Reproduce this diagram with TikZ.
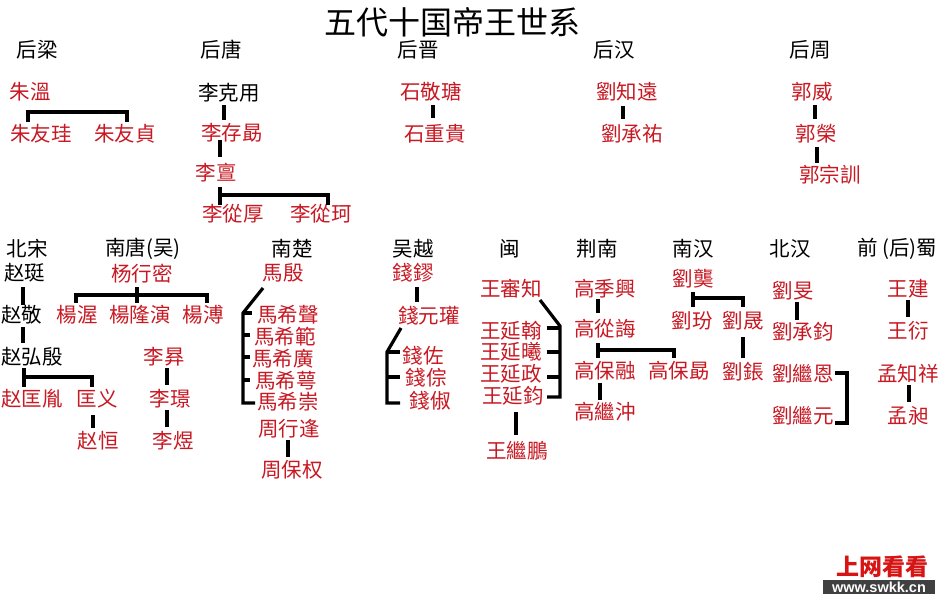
\documentclass[tikz,border=0pt]{standalone}
\usepackage{fontspec}
\setmainfont{Liberation Sans}
\newfontfamily\cjk{Noto Sans CJK SC}
\newfontfamily\wmfont{Liberation Sans}
\definecolor{namered}{RGB}{200,25,35}
\definecolor{wmred}{RGB}{215,20,20}
\definecolor{wmgray}{RGB}{64,64,64}
\begin{document}
\begin{tikzpicture}[x=1pt,y=-1pt,
  every node/.style={inner sep=0pt, outer sep=0pt},
  nm/.style={font=\cjk\fontsize{20.5}{20.5}\selectfont, text=namered},
  bk/.style={font=\cjk\fontsize{20.5}{20.5}\selectfont, text=black},
  conn/.style={draw=black, line width=3.2pt}]
\useasboundingbox (0,0) rectangle (950,604);
\fill[white] (0,0) rectangle (950,604);

% title
\node[font=\cjk\fontsize{32}{32}\selectfont] (title) at (452,22) {五代十国帝王世系};

% ---------- upper headers
\node[bk] (hliang) at (37,50) {后梁};
\node[bk] (htang) at (221,50) {后唐};
\node[bk] (hjin) at (418,50) {后晋};
\node[bk] (hhan) at (614,50) {后汉};
\node[bk] (hzhou) at (810,50) {后周};

% 后梁
\node[nm] (zw) at (30,92) {朱溫};
\node[nm] (zyg) at (41,134) {朱友珪};
\node[nm] (zyz) at (125,134) {朱友貞};
\draw[conn] ([shift={(-13,-12)}]zyg.center) -- ([shift={(-2,20)}]zw.center) -| ([shift={(2,-12)}]zyz.center);

% 后唐
\node[bk] (lky) at (229,93) {李克用};
\node[nm] (lcx) at (232,133) {李存勗};
\node[nm] (ld) at (216,173) {李亶};
\node[nm] (lch) at (233,214) {李從厚};
\node[nm] (lck) at (321,214) {李從珂};
\draw[conn] ([shift={(-5,12)}]lky.center) -- ([shift={(-8,-13)}]lcx.center);
\draw[conn] ([shift={(-12,7)}]lcx.center) -- ([shift={(4,-16)}]ld.center);
\draw[conn] ([shift={(4,14)}]ld.center) -- ([shift={(-13,-9)}]lch.center);
\draw[conn] ([shift={(4,22)}]ld.center) -| ([shift={(7,-9)}]lck.center);

% 后晋
\node[nm] (sjt) at (431,92) {石敬瑭};
\node[nm] (szg) at (435,134) {石重貴};
\draw[conn] ([shift={(2,13)}]sjt.center) -- ([shift={(-2,-16)}]szg.center);

% 后汉
\node[nm] (lzy) at (627,92) {劉知遠};
\node[nm] (lcy) at (632,134) {劉承祐};
\draw[conn] ([shift={(-4,14)}]lzy.center) -- ([shift={(-9,-15)}]lcy.center);

% 后周
\node[nm] (gw) at (812,92) {郭威};
\node[nm] (gr) at (816,134) {郭榮};
\node[nm] (gzx) at (830,175) {郭宗訓};
\draw[conn] ([shift={(3,13)}]gw.center) -- ([shift={(-1,-15)}]gr.center);
\draw[conn] ([shift={(1,13)}]gr.center) -- ([shift={(-13,-12)}]gzx.center);

% ---------- lower headers
\node[bk] (hbs) at (27,249) {北宋};
\node[bk] (hnt) at (143,249) {南唐(吴)};
\node[bk] (hnc) at (292,249) {南楚};
\node[bk] (hwy) at (413,249) {吴越};
\node[bk] (hmin) at (510,249) {闽};
\node[bk] (hjn) at (597,249) {荆南};
\node[bk] (hnh) at (693,249) {南汉};
\node[bk] (hbh) at (790,249) {北汉};
\node[bk] (hshu) at (897,249) {前 (后)蜀};

% 北宋
\node[bk] (zt) at (25,273) {赵珽};
\node[bk] (zj) at (22,315) {赵敬};
\node[bk] (zhy) at (32,357) {赵弘殷};
\node[nm] (zky) at (32,399) {赵匡胤};
\node[nm] (ky) at (97,399) {匡义};
\node[nm] (zh) at (98,441) {赵恒};
\draw[conn] ([shift={(-2,14)}]zt.center) -- ([shift={(1,-10)}]zj.center);
\draw[conn] ([shift={(1,12)}]zj.center) -- ([shift={(-9,-14)}]zhy.center);
\draw[conn] ([shift={(-8,11)}]zhy.center) -- ([shift={(-8,-12)}]zky.center);
\draw[conn] ([shift={(-8,20)}]zhy.center) -| ([shift={(-5,-12)}]ky.center);
\draw[conn] ([shift={(-4,16)}]ky.center) -- ([shift={(-5,-13)}]zh.center);

% 南唐(吴)
\node[nm] (yxm) at (142,274) {杨行密};
\node[nm] (yw) at (77,315) {楊渥};
\node[nm] (yly) at (140,315) {楊隆演};
\node[nm] (yp) at (203,315) {楊溥};
\draw[conn] ([shift={(-5,13)}]yxm.center) -- ([shift={(-3,-12)}]yly.center);
\draw[conn] ([shift={(-1,-12)}]yw.center) |- ([shift={(4,-20)}]yp.center) -- ([shift={(4,-12)}]yp.center);
\node[nm] (lb) at (164,357) {李昪};
\node[nm] (lj) at (170,399) {李璟};
\node[nm] (ly) at (173,441) {李煜};
\draw[conn] ([shift={(3,11)}]lb.center) -- ([shift={(-3,-14)}]lj.center);
\draw[conn] ([shift={(-3,11)}]lj.center) -- ([shift={(-6,-14)}]ly.center);

% 南楚
\node[nm] (my) at (283,273) {馬殷};
\node[nm] (m1) at (288,315) {馬希聲};
\node[nm] (m2) at (285,337) {馬希範};
\node[nm] (m3) at (283,359) {馬希廣};
\node[nm] (m4) at (286,381) {馬希萼};
\node[nm] (m5) at (288,402) {馬希崇};
\node[nm] (zxf) at (289,429) {周行逢};
\node[nm] (zbq) at (292,470) {周保权};
\draw[conn, line join=miter] ([shift={(-20,15)}]my.center) -- ([shift={(-45,-2)}]m1.center) -- ([shift={(-45,1)}]m5.center) -- ([shift={(-33,1)}]m5.center);
\draw[conn] ([shift={(-45,-2)}]m1.center) -- ([shift={(-36,-2)}]m1.center);
\draw[conn] ([shift={(-42,-2)}]m2.center) -- ([shift={(-35,-2)}]m2.center);
\draw[conn] ([shift={(-40,-2)}]m3.center) -- ([shift={(-33,-2)}]m3.center);
\draw[conn] ([shift={(-43,-1)}]m4.center) -- ([shift={(-36,-1)}]m4.center);
\draw[conn] ([shift={(-1,11)}]zxf.center) -- ([shift={(-4,-13)}]zbq.center);

% 吴越
\node[nm] (ql) at (413,273) {錢鏐};
\node[nm] (qyg) at (429,316) {錢元瓘};
\node[nm] (qz) at (423,356) {錢佐};
\node[nm] (qc) at (426,378) {錢倧};
\node[nm] (qs) at (430,401) {錢俶};
\draw[conn] ([shift={(4,14)}]ql.center) -- ([shift={(-12,-14)}]qyg.center);
\draw[conn, line join=miter] ([shift={(-28,12)}]qyg.center) -- ([shift={(-36,-4)}]qz.center) -- ([shift={(-43,2)}]qs.center) -- ([shift={(-30,2)}]qs.center);
\draw[conn] ([shift={(-36,-4)}]qz.center) -- ([shift={(-23,-4)}]qz.center);
\draw[conn] ([shift={(-39,-1)}]qc.center) -- ([shift={(-26,-1)}]qc.center);

% 闽
\node[nm] (wsz) at (511,289) {王審知};
\node[nm] (w1) at (511,331) {王延翰};
\node[nm] (w2) at (511,352) {王延曦};
\node[nm] (w3) at (511,374) {王延政};
\node[nm] (w4) at (513,396) {王延鈞};
\node[nm] (wjp) at (517,451) {王繼鵬};
\draw[conn, line join=miter] ([shift={(29,11)}]wsz.center) -- ([shift={(49,-5)}]w1.center) -- ([shift={(47,1)}]w4.center) -- ([shift={(34,1)}]w4.center);
\draw[conn] ([shift={(36,-3)}]w1.center) -- ([shift={(49,-3)}]w1.center);
\draw[conn] ([shift={(36,0)}]w2.center) -- ([shift={(49,0)}]w2.center);
\draw[conn] ([shift={(36,3)}]w3.center) -- ([shift={(49,3)}]w3.center);
\draw[conn] ([shift={(3,16)}]w4.center) -- ([shift={(-1,-16)}]wjp.center);

% 荆南
\node[nm] (gjx) at (605,289) {高季興};
\node[nm] (gch) at (605,329) {高從誨};
\node[nm] (gbr) at (605,371) {高保融};
\node[nm] (gbx) at (679,371) {高保勗};
\node[nm] (gjc) at (605,412) {高繼沖};
\draw[conn] ([shift={(-7,10)}]gjx.center) -- ([shift={(-7,-16)}]gch.center);
\draw[conn] ([shift={(-7,14)}]gch.center) -- ([shift={(-7,-13)}]gbr.center);
\draw[conn] ([shift={(-7,21)}]gch.center) -| ([shift={(-5,-13)}]gbx.center);
\draw[conn] ([shift={(-5,12)}]gbr.center) -- ([shift={(-5,-12)}]gjc.center);

% 南汉
\node[nm] (lyan) at (693,279) {劉龑};
\node[nm] (lf) at (692,321) {劉玢};
\node[nm] (ls) at (743,321) {劉晟};
\node[nm] (lchg) at (743,372) {劉鋹};
\draw[conn] ([shift={(0,13)}]lyan.center) -- ([shift={(1,-14)}]lf.center);
\draw[conn] ([shift={(0,19)}]lyan.center) -| ([shift={(0,-14)}]ls.center);
\draw[conn] ([shift={(0,16)}]ls.center) -- ([shift={(0,-14)}]lchg.center);

% 北汉
\node[nm] (lm) at (793,291) {劉旻};
\node[nm] (lcj) at (803,332) {劉承鈞};
\node[nm] (lje) at (803,374) {劉繼恩};
\node[nm] (ljy) at (803,416) {劉繼元};
\draw[conn] ([shift={(4,11)}]lm.center) -- ([shift={(-6,-12)}]lcj.center);
\draw[conn, line join=miter] ([shift={(32,-1)}]lje.center) -- ([shift={(44,-1)}]lje.center) -- ([shift={(44,7)}]ljy.center) -- ([shift={(32,7)}]ljy.center);

% 前(后)蜀
\node[nm] (wj) at (908,289) {王建};
\node[nm] (wy) at (908,331) {王衍};
\node[nm] (mzx) at (908,374) {孟知祥};
\node[nm] (mc) at (908,416) {孟昶};
\draw[conn] ([shift={(0,11)}]wj.center) -- ([shift={(0,-14)}]wy.center);
\draw[conn] ([shift={(1,11)}]mzx.center) -- ([shift={(1,-14)}]mc.center);

% watermark
\node[font=\cjk\bfseries\fontsize{23}{23}\selectfont, text=wmred] (wm) at (882,567) {上网看看};
\node[fill=wmgray, text=white, font=\wmfont\bfseries\fontsize{14.5}{14.5}\selectfont, minimum width=112pt, minimum height=14pt] (url) at (879,587) {www.swkk.cn};
\end{tikzpicture}
\end{document}
